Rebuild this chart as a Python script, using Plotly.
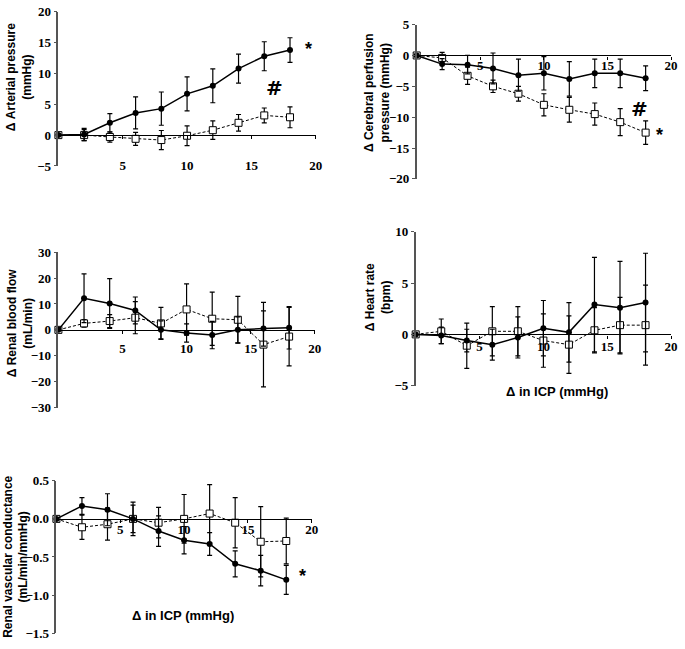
import plotly.graph_objects as go

W, H = 685, 649

# ---------------- data ----------------
icp = [0, 2, 4, 6, 8, 10, 12, 14, 16, 18]

ap_ctrl = [0, 0.1, 2.0, 3.6, 4.3, 6.7, 8.0, 10.8, 12.8, 13.8]
ap_ctrl_err = [0, 1.0, 1.5, 2.6, 2.7, 2.75, 2.75, 2.35, 2.35, 2.0]
ap_trt = [0, 0.0, -0.3, -0.6, -0.8, -0.1, 0.8, 2.0, 3.2, 2.9]
ap_trt_err = [0, 0.9, 0.85, 1.05, 1.55, 1.6, 1.5, 1.35, 1.2, 1.7]

cpp_ctrl = [0, -1.4, -1.5, -2.1, -3.2, -2.9, -3.8, -2.9, -2.9, -3.7]
cpp_ctrl_err = [0, 0.9, 1.5, 2.5, 2.6, 2.7, 2.8, 2.3, 2.3, 2.0]
cpp_trt = [0, -0.4, -3.3, -5.0, -6.2, -8.0, -8.8, -9.5, -10.8, -12.5]
cpp_trt_err = [0, 0.9, 1.4, 1.0, 1.2, 1.8, 2.0, 1.8, 2.2, 1.9]

rbf_ctrl = [0, 12.2, 10.2, 7.5, 0.0, -1.2, -2.0, 0.0, 0.5, 0.8]
rbf_ctrl_err = [0, 9.4, 9.6, 5.2, 3.5, 3.5, 5.3, 5.0, 6.8, 8.2]
rbf_trt = [0, 2.5, 3.4, 4.7, 2.5, 7.9, 4.3, 3.9, -5.7, -2.6]
rbf_trt_err = [0, 1.5, 2.5, 6.2, 6.2, 9.9, 10.3, 9.0, 16.3, 11.3]

hr_ctrl = [0, -0.1, -0.6, -1.0, -0.3, 0.6, 0.2, 2.9, 2.6, 3.1]
hr_ctrl_err = [0, 0.8, 1.1, 1.5, 2.0, 2.7, 2.9, 4.6, 4.5, 4.8]
hr_trt = [0, 0.3, -1.1, 0.3, 0.3, -0.6, -1.0, 0.4, 0.9, 0.9]
hr_trt_err = [0, 1.2, 2.2, 2.4, 2.4, 2.6, 2.8, 2.2, 2.7, 3.9]

rvc_ctrl = [0, 0.17, 0.12, 0.0, -0.16, -0.28, -0.33, -0.59, -0.68, -0.80]
rvc_ctrl_err = [0, 0.11, 0.21, 0.22, 0.20, 0.18, 0.15, 0.17, 0.20, 0.19]
rvc_trt = [0, -0.11, -0.07, 0.0, -0.05, 0.0, 0.07, -0.05, -0.30, -0.29]
rvc_trt_err = [0, 0.16, 0.21, 0.18, 0.20, 0.32, 0.38, 0.33, 0.46, 0.30]

x_ticks = [5, 10, 15, 20]
x_title = "Δ in ICP (mmHg)"

panels = [
    dict(ctrl=ap_ctrl, ctrl_err=ap_ctrl_err, trt=ap_trt, trt_err=ap_trt_err,
         yrange=[-5, 20], yticks=[-5, 0, 5, 10, 15, 20], fmt="d",
         ytitle="Δ Arterial pressure<br>(mmHg)"),
    dict(ctrl=cpp_ctrl, ctrl_err=cpp_ctrl_err, trt=cpp_trt, trt_err=cpp_trt_err,
         yrange=[-20, 5], yticks=[-20, -15, -10, -5, 0, 5], fmt="d",
         ytitle="Δ Cerebral perfusion<br>pressure (mmHg)"),
    dict(ctrl=rbf_ctrl, ctrl_err=rbf_ctrl_err, trt=rbf_trt, trt_err=rbf_trt_err,
         yrange=[-30, 30], yticks=[-30, -20, -10, 0, 10, 20, 30], fmt="d",
         ytitle="Δ Renal blood flow<br>(mL/min)"),
    dict(ctrl=hr_ctrl, ctrl_err=hr_ctrl_err, trt=hr_trt, trt_err=hr_trt_err,
         yrange=[-5, 10], yticks=[-5, 0, 5, 10], fmt="d",
         ytitle="Δ Heart rate<br>(bpm)"),
    dict(ctrl=rvc_ctrl, ctrl_err=rvc_ctrl_err, trt=rvc_trt, trt_err=rvc_trt_err,
         yrange=[-1.5, 0.5], yticks=[-1.5, -1.0, -0.5, 0.0, 0.5], fmt=".1f",
         ytitle="Renal vascular conductance<br>(mL/min/mmHg)"),
]

# layout geometry in pixels: x=0 / x=20 positions, top / bottom of y range,
# x tick-label standoff, y-title centre
geom = [
    dict(x0=59, x1=319, yt=5, yb=162.7, stand=15, tx=20, ty=72),
    dict(x0=421, x1=678, yt=18, yb=176, stand=-5, tx=381, ty=88),
    dict(x0=59, x1=318, yt=251, yb=410, stand=3, tx=20, ty=323),
    dict(x0=420, x1=678, yt=230, yb=387.7, stand=-3, tx=382, ty=297),
    dict(x0=57, x1=315, yt=485, yb=641, stand=-5, tx=16, ty=563),
]


def px(p):
    return p / W


def py(p):
    return 1 - p / H


tick_font = dict(family="Liberation Serif", size=13, color="black", weight="bold")
title_font = dict(family="Liberation Sans", size=12, color="black", weight="bold")

fig = go.Figure()
layout = {}
annotations = []

for i, (p, g) in enumerate(zip(panels, geom), start=1):
    xa = "x" if i == 1 else f"x{i}"
    ya = "y" if i == 1 else f"y{i}"
    fig.add_trace(go.Scatter(
        x=icp, y=p["trt"], xaxis=xa, yaxis=ya, mode="lines+markers",
        line=dict(color="black", width=1, dash="3px,2px"),
        marker=dict(symbol="square", size=7, color="white",
                    line=dict(color="black", width=1)),
        error_y=dict(type="data", array=p["trt_err"], color="black",
                     thickness=1.2, width=2.5),
        cliponaxis=False, showlegend=False))
    fig.add_trace(go.Scatter(
        x=icp, y=p["ctrl"], xaxis=xa, yaxis=ya, mode="lines+markers",
        line=dict(color="black", width=1.5),
        marker=dict(symbol="circle", size=6, color="black"),
        error_y=dict(type="data", array=p["ctrl_err"], color="black",
                     thickness=1.2, width=2.5),
        cliponaxis=False, showlegend=False))

    y0, y1 = p["yrange"]
    ytop_p, ybot_p = py(g["yt"]), py(g["yb"])
    zero_pos = ybot_p + (0 - y0) / (y1 - y0) * (ytop_p - ybot_p)
    key = "" if i == 1 else str(i)
    layout["xaxis" + key] = dict(
        domain=[px(g["x0"]), px(g["x1"])], range=[0, 20],
        anchor="free", position=zero_pos,
        showline=True, linecolor="black", linewidth=1.3,
        ticks="outside", ticklen=3, tickcolor="black", tickwidth=1,
        tickvals=x_ticks, ticktext=[str(v) for v in x_ticks],
        tickfont=tick_font, ticklabelstandoff=g["stand"],
        showgrid=False, zeroline=False)
    layout["yaxis" + key] = dict(
        domain=[ybot_p, ytop_p], range=p["yrange"], anchor=xa,
        showline=True, linecolor="#555555", linewidth=1.5,
        ticks="outside", ticklen=3, tickcolor="#555555", tickwidth=1,
        tickvals=p["yticks"], tickformat=p["fmt"], tickfont=tick_font,
        showgrid=False, zeroline=False)
    annotations.append(dict(
        x=px(g["tx"]), y=py(g["ty"]), xref="paper", yref="paper",
        text=p["ytitle"], textangle=-90, showarrow=False,
        font=title_font, xanchor="center", yanchor="middle"))

sig = [
    ("x", "y", 19.4, 14.0, "*", 18, "Liberation Sans"),
    ("x", "y", 16.8, 7.6, "#", 20, "DejaVu Sans"),
    ("x2", "y2", 17.5, -8.6, "#", 20, "DejaVu Sans"),
    ("x2", "y2", 19.1, -12.9, "*", 18, "Liberation Sans"),
    ("x5", "y5", 19.3, -0.75, "*", 18, "Liberation Sans"),
]
for xr, yr, xv, yv, t, s, fam in sig:
    annotations.append(dict(x=xv, y=yv, xref=xr, yref=yr, text=t,
                            showarrow=False, xanchor="center", yanchor="middle",
                            font=dict(family=fam, size=s, color="black",
                                      weight="bold")))

annotations.append(dict(x=px(563), y=py(394), xref="paper", yref="paper",
                        text=x_title, showarrow=False,
                        xanchor="center", yanchor="middle",
                        font=dict(title_font, size=13)))
annotations.append(dict(x=px(185), y=py(623), xref="paper", yref="paper",
                        text=x_title, showarrow=False,
                        xanchor="center", yanchor="middle",
                        font=dict(title_font, size=13)))

fig.update_layout(
    width=W, height=H, margin=dict(l=0, r=0, t=0, b=0),
    paper_bgcolor="white", plot_bgcolor="white",
    annotations=annotations, **layout)

fig.write_html("out.html", config={"displayModeBar": False},
               post_script="document.body.style.margin='0';"
                           "document.body.style.overflow='hidden';")
